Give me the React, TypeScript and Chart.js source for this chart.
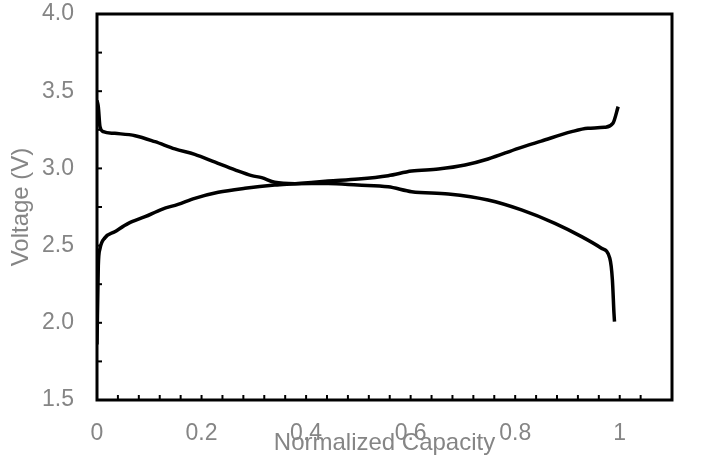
import { useEffect, useRef } from 'react';
import { Chart, registerables } from 'chart.js';

Chart.register(...registerables);

// Charge curve (rising)
const chargeCapacity = [0, 0.0025, 0.0057, 0.015, 0.034, 0.06, 0.092, 0.124, 0.155, 0.187, 0.232, 0.283, 0.34, 0.379, 0.442, 0.5, 0.557, 0.602, 0.653, 0.704, 0.748, 0.806, 0.85, 0.908, 0.939, 0.971, 0.987, 0.997];
const chargeVoltage = [1.86, 2.37, 2.48, 2.55, 2.59, 2.644, 2.687, 2.735, 2.767, 2.806, 2.845, 2.871, 2.892, 2.901, 2.918, 2.931, 2.953, 2.983, 2.996, 3.022, 3.061, 3.13, 3.177, 3.238, 3.26, 3.266, 3.292, 3.4];

// Discharge curve (falling)
const dischargeCapacity = [0, 0.0025, 0.0057, 0.012, 0.034, 0.073, 0.111, 0.149, 0.187, 0.226, 0.264, 0.296, 0.315, 0.34, 0.379, 0.442, 0.499, 0.557, 0.602, 0.672, 0.748, 0.812, 0.876, 0.927, 0.965, 0.981, 0.986, 0.989, 0.99];
const dischargeVoltage = [3.44, 3.4, 3.27, 3.238, 3.227, 3.212, 3.173, 3.126, 3.091, 3.04, 2.99, 2.953, 2.94, 2.91, 2.901, 2.902, 2.892, 2.881, 2.849, 2.834, 2.795, 2.731, 2.644, 2.558, 2.483, 2.418, 2.277, 2.062, 2.007];

const xTickLabels = ['0', '0.2', '0.4', '0.6', '0.8', '1'];
const yTickLabels = ['1.5', '2.0', '2.5', '3.0', '3.5', '4.0'];

const xTitle = 'Normalized Capacity';
const yTitle = 'Voltage (V)';

const GRAY = '#858585';
const FONT = "'Liberation Sans', Arial, sans-serif";

const framePlugin = {
  id: 'frame',
  afterDatasetsDraw(chart: any) {
    const { ctx, chartArea: a, scales } = chart;
    ctx.save();
    ctx.strokeStyle = '#000';
    ctx.lineWidth = 2;
    for (const t of scales.x.ticks) {
      if (t.value > 1.09) continue;
      const px = scales.x.getPixelForValue(t.value);
      ctx.beginPath();
      ctx.moveTo(px, a.bottom);
      ctx.lineTo(px, a.bottom - 5);
      ctx.stroke();
    }
    for (const t of scales.y.ticks) {
      const py = scales.y.getPixelForValue(t.value);
      ctx.beginPath();
      ctx.moveTo(a.left, py);
      ctx.lineTo(a.left + 5, py);
      ctx.stroke();
    }
    ctx.lineWidth = 3;
    ctx.strokeRect(a.left, a.top, a.right - a.left, a.bottom - a.top);
    ctx.restore();
  },
};

export default function App() {
  const ref = useRef<HTMLCanvasElement | null>(null);

  useEffect(() => {
    if (!ref.current) return;
    const charge = chargeCapacity.map((x, i) => ({ x, y: chargeVoltage[i] }));
    const discharge = dischargeCapacity.map((x, i) => ({ x, y: dischargeVoltage[i] }));
    const chart = new Chart(ref.current, {
      type: 'scatter',
      data: {
        datasets: [
          { data: charge, showLine: true, borderColor: '#000', borderWidth: 3.5, pointRadius: 0, cubicInterpolationMode: 'monotone' },
          { data: discharge, showLine: true, borderColor: '#000', borderWidth: 3.5, pointRadius: 0, cubicInterpolationMode: 'monotone' },
        ],
      },
      options: {
        responsive: false,
        animation: false,
        events: [],
        layout: { padding: { top: 14, right: 34, left: 0, bottom: 0 } },
        plugins: { legend: { display: false }, tooltip: { enabled: false } },
        scales: {
          x: {
            type: 'linear',
            min: 0,
            max: 1.1,
            grid: { display: false },
            border: { display: false },
            afterFit: (s: any) => { s.height = 66; s.paddingLeft = 0; s.paddingRight = 0; },
            ticks: {
              stepSize: 0.04,
              autoSkip: false,
              maxRotation: 0,
              padding: 12,
              color: GRAY,
              font: { family: FONT, size: 23 },
              callback: (v: any) => {
                const k = Number(v) / 0.2;
                const r = Math.round(k);
                if (Math.abs(k - r) < 1e-6 && r >= 0 && r < xTickLabels.length) return xTickLabels[r];
                return '';
              },
            },
            title: {
              display: true,
              text: xTitle,
              color: GRAY,
              font: { family: FONT, size: 24 },
              padding: { top: 0, bottom: 8 },
            },
          },
          y: {
            type: 'linear',
            min: 1.5,
            max: 4.0,
            grid: { display: false },
            border: { display: false },
            afterFit: (s: any) => { s.width = 97; s.paddingTop = 0; s.paddingBottom = 0; },
            ticks: {
              stepSize: 0.25,
              autoSkip: false,
              padding: 15,
              color: GRAY,
              font: { family: FONT, size: 23 },
              callback: (v: any) => {
                const k = (Number(v) - 1.5) / 0.5;
                const r = Math.round(k);
                if (Math.abs(k - r) < 1e-6 && r >= 0 && r < yTickLabels.length) return yTickLabels[r];
                return '';
              },
            },
            title: {
              display: true,
              text: yTitle,
              color: GRAY,
              font: { family: FONT, size: 24 },
              padding: { top: 7, bottom: 0 },
            },
          },
        },
      },
      plugins: [framePlugin],
    } as any);
    return () => chart.destroy();
  }, []);

  return (
    <div style={{ position: 'fixed', left: 0, top: 0, width: 706, height: 466, background: '#fff' }}>
      <canvas ref={ref} width={706} height={466} />
    </div>
  );
}
